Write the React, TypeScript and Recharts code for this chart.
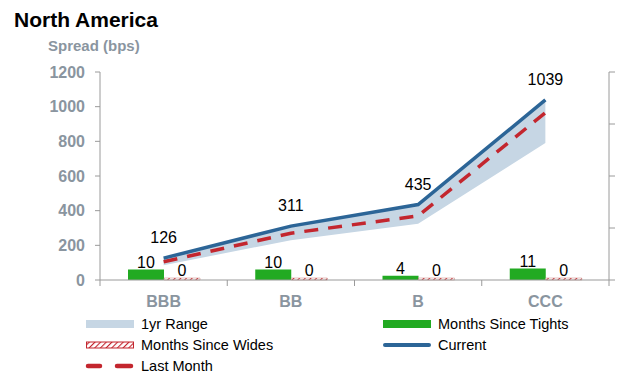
import React from 'react';
import {
  ComposedChart,
  Area,
  Line,
  Bar,
  XAxis,
  YAxis,
  LabelList,
} from 'recharts';

const ratings = ['BBB', 'BB', 'B', 'CCC'];
const current = [126, 311, 435, 1039];
const lastMonth = [105, 270, 370, 965];
const rangeLow = [85, 230, 325, 790];
const rangeHigh = [126, 311, 435, 1039];
const monthsSinceTights = [10, 10, 4, 11];
const monthsSinceWides = [0, 0, 0, 0];
const spreadTicks = [0, 200, 400, 600, 800, 1000, 1200];
const monthTicks = [0, 50, 100, 150, 200];

const data = ratings.map((r, i) => ({
  rating: r,
  range: [rangeLow[i], rangeHigh[i]],
  current: current[i],
  lastMonth: lastMonth[i],
  tights: monthsSinceTights[i],
  wides: monthsSinceWides[i],
}));

const FONT = '"Liberation Sans", Arial, sans-serif';
const GREY = '#8a959f';
const AXIS = '#9a9a9a';
const BLUE = '#2c6597';
const RED = '#c3262e';
const GREEN = '#22aa22';
const BAND = '#c6d6e4';

// axis that shows tick marks but no labels
const noLabel = () => <g />;

// category label, with the tick marks between categories (Excel style)
const CategoryTick = (props: any) => {
  const { x, y, payload, index, width, visibleTicksCount } = props;
  const half = width / visibleTicksCount / 2;
  return (
    <g>
      <line x1={x - half} y1={y} x2={x - half} y2={y + 6} stroke={AXIS} />
      {index === visibleTicksCount - 1 && (
        <line x1={x + half} y1={y} x2={x + half} y2={y + 6} stroke={AXIS} />
      )}
      <text
        x={x}
        y={y + 16}
        dy="0.71em"
        textAnchor="middle"
        fill={GREY}
        fontSize={16}
        fontWeight="bold"
        fontFamily={FONT}
      >
        {payload.value}
      </text>
    </g>
  );
};

const legendItems = [
  { name: '1yr Range', kind: 'band', col: 0, row: 0 },
  { name: 'Months Since Tights', kind: 'green', col: 1, row: 0 },
  { name: 'Months Since Wides', kind: 'hatch', col: 0, row: 1 },
  { name: 'Current', kind: 'line', col: 1, row: 1 },
  { name: 'Last Month', kind: 'dash', col: 0, row: 2 },
];

const Swatch: React.FC<{ kind: string }> = ({ kind }) => (
  <svg width={50} height={10} style={{ display: 'block' }}>
    <defs>
      <pattern id="hatchLegend" width="4" height="4" patternUnits="userSpaceOnUse" patternTransform="rotate(45)">
        <rect width="4" height="4" fill="#fff" />
        <line x1="0" y1="0" x2="0" y2="4" stroke={RED} strokeWidth="2.2" />
      </pattern>
    </defs>
    {kind === 'band' && <rect x={1} y={1} width={48} height={8} fill={BAND} />}
    {kind === 'green' && <rect x={1} y={1} width={48} height={8} fill={GREEN} />}
    {kind === 'hatch' && (
      <rect x={1.5} y={2} width={47} height={6} fill="url(#hatchLegend)" stroke={RED} strokeWidth={1} />
    )}
    {kind === 'line' && (
      <line x1={3} y1={5} x2={47} y2={5} stroke={BLUE} strokeWidth={4} strokeLinecap="round" />
    )}
    {kind === 'dash' && (
      <g stroke={RED} strokeWidth={4.5} strokeLinecap="round">
        <line x1={3} y1={5} x2={15} y2={5} />
        <line x1={32} y1={5} x2={46} y2={5} />
      </g>
    )}
  </svg>
);

const App: React.FC = () => {
  return (
    <div style={{ position: 'absolute', left: 0, top: 0, width: 617, height: 374, overflow: 'hidden', fontFamily: FONT, background: '#fff' }}>
      <div style={{ position: 'absolute', left: 14, top: 8, fontSize: 21, fontWeight: 'bold', color: '#000' }}>
        North America
      </div>
      <div style={{ position: 'absolute', left: 48, top: 37, fontSize: 15, fontWeight: 'bold', color: GREY }}>
        Spread (bps)
      </div>

      <ComposedChart
        width={617}
        height={374}
        data={data}
        margin={{ top: 72, right: 0, bottom: 0, left: 0 }}
        barGap={0}
        style={{ position: 'absolute', left: 0, top: 0 }}
      >
        <defs>
          <pattern id="hatch" width="4" height="4" patternUnits="userSpaceOnUse" patternTransform="rotate(45)">
            <rect width="4" height="4" fill="#fff" />
            <line x1="0" y1="0" x2="0" y2="4" stroke={RED} strokeWidth="2" />
          </pattern>
        </defs>
        <XAxis
          dataKey="rating"
          height={94}
          interval={0}
          axisLine={{ stroke: AXIS }}
          tickLine={false}
          tickSize={0}
          tickMargin={0}
          tick={CategoryTick}
        />
        <YAxis
          yAxisId="left"
          width={100}
          domain={[0, 1200]}
          ticks={spreadTicks}
          interval={0}
          axisLine={{ stroke: AXIS }}
          tickLine={{ stroke: AXIS }}
          tickSize={5}
          tickMargin={10}
          tick={{ fill: GREY, fontSize: 16, fontWeight: 'bold', fontFamily: FONT }}
        />
        <YAxis
          yAxisId="right"
          orientation="right"
          width={8}
          domain={[0, 200]}
          ticks={monthTicks}
          interval={0}
          tick={noLabel}
          axisLine={{ stroke: AXIS }}
          tickLine={{ stroke: AXIS }}
          tickSize={6}
        />
        <Area
          yAxisId="left"
          dataKey="range"
          name="1yr Range"
          type="linear"
          fill={BAND}
          fillOpacity={1}
          stroke="none"
          isAnimationActive={false}
        />
        <Bar
          yAxisId="right"
          dataKey="tights"
          name="Months Since Tights"
          fill={GREEN}
          barSize={36}
          isAnimationActive={false}
        >
          <LabelList dataKey="tights" position="top" offset={2} fill="#000" fontSize={16} fontFamily={FONT} />
        </Bar>
        <Bar
          yAxisId="right"
          dataKey="wides"
          name="Months Since Wides"
          fill="url(#hatch)"
          stroke="#c9817f"
          strokeWidth={0.5}
          barSize={36}
          minPointSize={2}
          isAnimationActive={false}
        >
          <LabelList dataKey="wides" position="top" offset={2} fill="#000" fontSize={16} fontFamily={FONT} />
        </Bar>
        <Line
          yAxisId="left"
          dataKey="lastMonth"
          name="Last Month"
          type="linear"
          stroke={RED}
          strokeWidth={3.5}
          strokeDasharray="14 10"
          dot={false}
          isAnimationActive={false}
        />
        <Line
          yAxisId="left"
          dataKey="current"
          name="Current"
          type="linear"
          stroke={BLUE}
          strokeWidth={3.5}
          dot={false}
          isAnimationActive={false}
        >
          <LabelList dataKey="current" position="top" offset={15} fill="#000" fontSize={16} fontFamily={FONT} />
        </Line>
      </ComposedChart>

      {legendItems.map((item) => (
        <div
          key={item.name}
          style={{
            position: 'absolute',
            left: item.col === 0 ? 85 : 382,
            top: 324 + item.row * 21 - 9,
            height: 18,
            display: 'flex',
            alignItems: 'center',
            fontSize: 14.5,
            color: '#000',
            whiteSpace: 'nowrap',
          }}
        >
          <Swatch kind={item.kind} />
          <span style={{ marginLeft: 6 }}>{item.name}</span>
        </div>
      ))}
    </div>
  );
};

export default App;
